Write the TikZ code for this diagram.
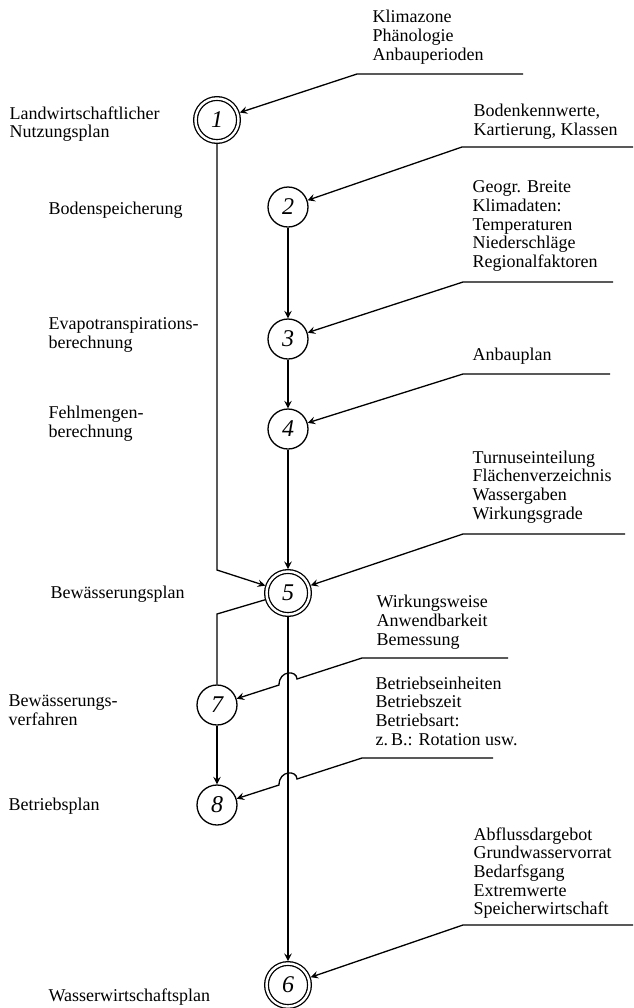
\documentclass[tikz,border=0pt]{standalone}
\usepackage{fontspec}
\setmainfont{Liberation Serif}
\usepackage{tikz}

\begin{document}
\begin{tikzpicture}[x=0.5pt,y=-0.5pt,>=stealth,line width=0.65pt,
    stage/.style={circle,draw,minimum size=20pt,inner sep=0pt,
      font=\fontsize{12}{12}\selectfont\itshape},
    mainstage/.style={stage,double,double distance=1.2pt,minimum size=21.5pt,outer sep=1.25pt},
    txt/.style={anchor=west,align=left,inner sep=0pt,font=\fontsize{9}{9.35}\selectfont}]
  \useasboundingbox (0,0) rectangle (633,1008);

  % stages
  \node[mainstage] (n1) at (217,120) {1};
  \node[stage]     (n2) at (288,207) {2};
  \node[stage]     (n3) at (288,339) {3};
  \node[stage]     (n4) at (288,429) {4};
  \node[mainstage] (n5) at (288,593) {5};
  \node[stage]     (n7) at (217,705) {7};
  \node[stage]     (n8) at (217,805) {8};
  \node[mainstage] (n6) at (288,985) {6};

  % names of the plans
  \node[txt] (l1) at (9,124)  {Landwirtschaftlicher\\Nutzungsplan};
  \node[txt] (l2) at (48,210) {Bodenspeicherung};
  \node[txt] (l3) at (48,335) {Evapotranspirations-\\berechnung};
  \node[txt] (l4) at (48,424) {Fehlmengen-\\berechnung};
  \node[txt] (l5) at (50,594) {Bewässerungsplan};
  \node[txt] (l7) at (8,710)  {Bewässerungs-\\verfahren};
  \node[txt] (l8) at (8,806)  {Betriebsplan};
  \node[txt] (l6) at (48,997) {Wasserwirtschaftsplan};

  % inputs
  \node[txt] (t1) at (372,37)  {Klimazone\\Phänologie\\Anbauperioden};
  \node[txt] (t2) at (473,122) {Bodenkennwerte,\\Kartierung, Klassen};
  \node[txt] (t3) at (472,226) {Geogr. Breite\\Klimadaten:\\Temperaturen\\Niederschläge\\Regionalfaktoren};
  \node[txt] (t4) at (472,356) {Anbauplan};
  \node[txt] (t5) at (472,487) {Turnuseinteilung\\Flächenverzeichnis\\Wassergaben\\Wirkungsgrade};
  \node[txt] (t7) at (376,622) {Wirkungsweise\\Anwendbarkeit\\Bemessung};
  \node[txt] (t8) at (375,711) {Betriebseinheiten\\Betriebszeit\\Betriebsart:\\z.\,B.: Rotation usw.};
  \node[txt] (t6) at (473,873) {Abflussdargebot\\Grundwasservorrat\\Bedarfsgang\\Extremwerte\\Speicherwirtschaft};

  \foreach \n/\xa/\xb/\y in {1/357/523/74, 2/462/633/147, 3/463/613/282, 4/463/610/374,
      5/463/625/534, 7/362/508/658, 8/362/493/758, 6/463/633/925}
    {\coordinate (a\n) at (\xa,\y);
     \coordinate (b\n) at (\xb,\y);}
  \foreach \n in {1,2,3,4,5,6}
    \draw[->] (b\n) -- (a\n) -- (n\n);

  % hops over the line 5-6
  \coordinate (j7a) at (297,679);
  \coordinate (j7b) at (279,685);
  \coordinate (j8a) at (297,779);
  \coordinate (j8b) at (279,785);
  \draw[->] (b7) -- (a7) -- (j7a) .. controls (297,670) and (279,670) .. (j7b) -- (n7);
  \draw[->] (b8) -- (a8) -- (j8a) .. controls (297,770) and (279,770) .. (j8b) -- (n8);

  % flow between the stages
  \coordinate (k5) at (217,570);
  \coordinate (k7) at (217,614);
  \draw[->] (n1) -- (k5) -- (n5);
  \draw[->] (n2) -- (n3);
  \draw[->] (n3) -- (n4);
  \draw[->] (n4) -- (n5);
  \draw (n5) -- (k7) -- (n7);
  \draw[->] (n7) -- (n8);
  \draw[->] (n5) -- (n6);
\end{tikzpicture}
\end{document}
